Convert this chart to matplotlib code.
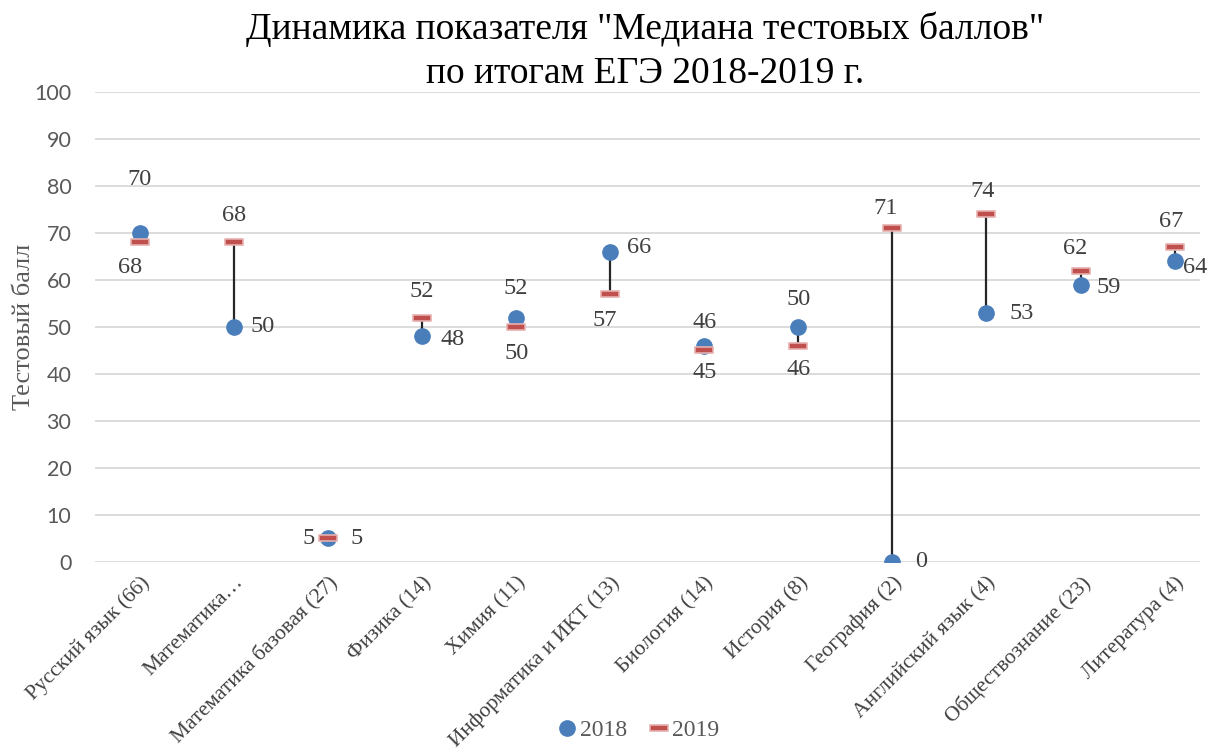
import numpy as np
import matplotlib.pyplot as plt
from matplotlib.path import Path

subjects = ["Русский язык (66)", "Математика…", "Математика базовая (27)", "Физика (14)",
            "Химия (11)", "Информатика и ИКТ (13)", "Биология (14)", "История (8)",
            "География (2)", "Английский язык (4)", "Обществознание (23)", "Литература (4)"]
median_2018 = [70, 50, 5, 48, 52, 66, 46, 50, 0, 53, 59, 64]
median_2019 = [68, 68, 5, 52, 50, 57, 45, 46, 71, 74, 62, 67]

# data label offsets from the point, in pixels (dx right, dy up)
off_2018 = [(0, 53), (29, 0), (29, 0), (30, -3), (0, 29), (29, 4), (0, 23), (0, 27),
            (29, 0), (35, -1), (28, -3), (21, -6)]
off_2019 = [(-10, -25), (0, 27), (-19, 0), (0, 26), (0, -27), (-6, -26), (0, -22), (0, -24),
            (-7, 20), (-4, 23), (-5, 22), (-3, 26)]

serif = "Liberation Serif"
sans = "Lato"
lbl_color = "#404040"
px = 0.72  # points per pixel at 100 dpi

bar_marker = Path([(-1, -0.32), (1, -0.32), (1, 0.32), (-1, 0.32), (-1, -0.32)],
                  [Path.MOVETO, Path.LINETO, Path.LINETO, Path.LINETO, Path.CLOSEPOLY])

fig = plt.figure(figsize=(12.12, 7.52), dpi=100)
ax = fig.add_axes([0.0784, 0.2527, 0.9117, 0.625])

x = np.arange(len(subjects))
lo = np.minimum(median_2018, median_2019)
hi = np.maximum(median_2018, median_2019)
ax.vlines(x, lo, hi, color="#262626", lw=1.6, zorder=2)
ax.plot(x, median_2018, "o", ms=11, color="#4A7EBB", mec="#4A7EBB", zorder=3, label="2018")
ax.plot(x, median_2019, marker=bar_marker, ls="none", ms=13, color="#C0504D",
        mec="#E6B0AF", mew=1.2, zorder=4, label="2019")

for i in range(len(subjects)):
    dx, dy = off_2018[i]
    ax.annotate(str(median_2018[i]), (x[i], median_2018[i]), xytext=(dx * px, dy * px),
                textcoords="offset points", ha="center", va="center", fontsize=17.5,
                family=serif, color=lbl_color)
    dx, dy = off_2019[i]
    ax.annotate(str(median_2019[i]), (x[i], median_2019[i]), xytext=(dx * px, dy * px),
                textcoords="offset points", ha="center", va="center", fontsize=17.5,
                family=serif, color=lbl_color)

ax.set_xlim(-0.478, 11.27)
ax.set_ylim(0, 100)
ax.set_yticks(range(0, 101, 10))
ax.yaxis.grid(True, color="#D9D9D9", lw=1.3)
ax.set_axisbelow(True)
for s in ax.spines.values():
    s.set_visible(False)
ax.tick_params(axis="both", length=0)
ax.tick_params(axis="y", pad=17)
ax.tick_params(axis="x", pad=8)
ax.set_xticks(x)
ax.set_xticklabels(subjects, rotation=45, ha="right", rotation_mode="anchor",
                   family=serif, fontsize=15.5, color=lbl_color)
for t in ax.get_yticklabels():
    t.set_family(sans)
    t.set_fontsize(15.5)
    t.set_color("#595959")
ax.set_ylabel("Тестовый балл", family=serif, fontsize=19, color="#595959")
ax.yaxis.set_label_coords(-0.054, 0.5)

fig.text(0.532, 0.985, 'Динамика показателя "Медиана тестовых баллов"\nпо итогам ЕГЭ 2018-2019 г.',
         ha="center", va="top", family=serif, fontsize=27, linespacing=1.35)

leg = fig.legend(loc="lower center", bbox_to_anchor=(0.525, -0.014), ncol=2, frameon=False,
                 prop={"family": serif, "size": 17}, handletextpad=0.0, columnspacing=0.8,
                 handlelength=1.1)
for t in leg.get_texts():
    t.set_color("#595959")

fig.savefig("out.png", dpi=100)
